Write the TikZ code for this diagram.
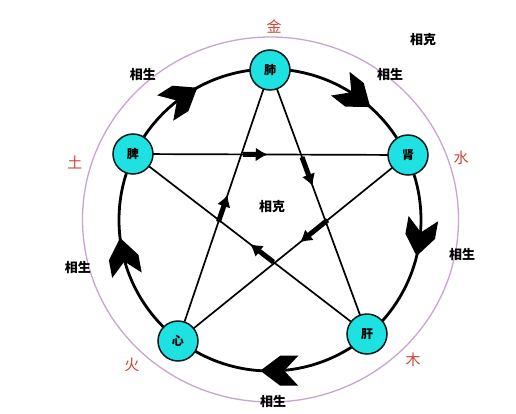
\documentclass[tikz,border=0pt]{standalone}
\usepackage{fontspec}
\newfontfamily\cjk{Noto Sans CJK SC}
\usetikzlibrary{arrows.meta,calc}
\definecolor{organ}{RGB}{30,225,225}
\definecolor{ring}{RGB}{200,165,205}
\definecolor{elem}{RGB}{205,70,55}
\tikzset{
  organnode/.style={circle,draw=black!80!teal,line width=1.5pt,fill=organ,minimum size=40pt,inner sep=0pt,font=\cjk\bfseries\fontsize{12}{12}\selectfont},
  lbl/.style={font=\cjk\bfseries\fontsize{13}{13}\selectfont,inner sep=0pt},
  elemlbl/.style={font=\cjk\fontsize{15}{15}\selectfont,text=elem,inner sep=0pt},
  star/.style={line width=1.7pt,draw=black},
  kearrow/.style={line width=5pt,-{Latex[length=12pt,width=14pt]}},
}
\begin{document}
\begin{tikzpicture}[x=1pt,y=1pt]
\useasboundingbox (-270,220) rectangle (246,-193);
\fill[white] (-270,220) rectangle (246,-193);
% outer ring
\draw[ring,line width=1.3pt] (0.5,0.5) ellipse [x radius=188,y radius=182.5];
% generation circle
\draw[line width=2.8pt] (0,0) circle [radius=151];
% organs
\coordinate (L) at (0,150);
\coordinate (S) at (-137,66);
\coordinate (K) at (138,65);
\coordinate (H) at (-92,-121);
\coordinate (V) at (97,-114);
% pentagram lines
\draw[star] (S) -- (K);
\draw[star] (L) -- (V);
\draw[star] (K) -- (H);
\draw[star] (H) -- (L);
\draw[star] (V) -- (S);
% restraint arrows
\draw[kearrow] ($(S)!0.40!(K)$) -- ($(S)!0.49!(K)$);
\draw[kearrow] ($(L)!0.33!(V)$) -- ($(L)!0.44!(V)$);
\draw[kearrow] ($(K)!0.35!(H)$) -- ($(K)!0.47!(H)$);
\draw[kearrow] ($(H)!0.44!(L)$) -- ($(H)!0.54!(L)$);
\draw[kearrow] ($(V)!0.40!(S)$) -- ($(V)!0.50!(S)$);
% generation chevrons
\foreach \a in {118.8,48.4,-13.8,-93.7,-173.2}{
  \fill[black,shift={(\a:151)},rotate=\a-86.4]
    (0,0) -- (-20,15) -- (-38,15) -- (-24,0) -- (-38,-15) -- (-20,-15) -- cycle;
}
% organ nodes
\node[organnode] (lung) at (L) {肺};
\node[organnode] (spleen) at (S) {脾};
\node[organnode] (kidney) at (K) {肾};
\node[organnode] (heart) at (H) {心};
\node[organnode] (liver) at (V) {肝};
% labels
\node[lbl] (g1) at (-127,145) {相生};
\node[lbl] (g2) at (120,145) {相生};
\node[lbl] (g3) at (192,-35) {相生};
\node[lbl] (g4) at (3,-182) {相生};
\node[lbl] (g5) at (-192,-48) {相生};
\node[lbl] (k1) at (2,13) {相克};
\node[lbl] (k2) at (153,180) {相克};
\node[elemlbl] (e1) at (4,193) {金};
\node[elemlbl] (e2) at (191,62) {水};
\node[elemlbl] (e3) at (143,-140) {木};
\node[elemlbl] (e4) at (-138,-145) {火};
\node[elemlbl] (e5) at (-195,58) {土};
\end{tikzpicture}
\end{document}
